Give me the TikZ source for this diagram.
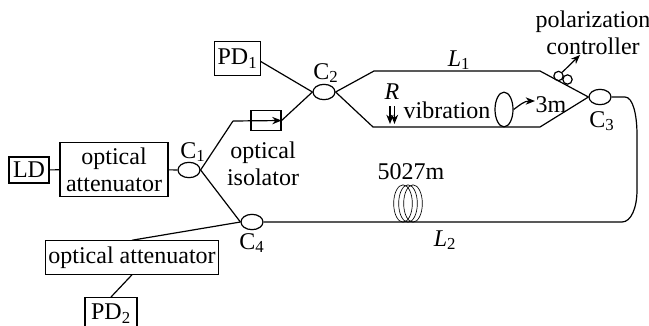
\documentclass[tikz,border=0pt]{standalone}
\usepackage{fontspec}
\setmainfont{Liberation Serif}
\usetikzlibrary{shapes.geometric,arrows.meta}

\begin{document}
\begin{tikzpicture}[x=0.75pt,y=-0.75pt,>={Stealth[length=7pt,width=5.5pt]},line width=0.9pt,
    box node/.style={rectangle,draw,inner sep=0pt,align=center},
    coupler node/.style={ellipse,draw,inner sep=0pt,minimum width=16.5pt,minimum height=11.5pt},
    coil node/.style={ellipse,draw,line width=0.5pt,inner sep=0pt,minimum width=14pt,minimum height=28pt},
    label node/.style={inner sep=0pt,align=center},
    font=\fontsize{18}{20}\selectfont]

    \clip (0,0) rectangle (649,325);

    \node[box node, minimum width=30pt, minimum height=19.5pt] (ld) at (29,170) {LD};
    \node[box node, minimum width=81pt, minimum height=40pt] (att1) at (114,169.5) {optical\\attenuator};
    \node[box node, minimum width=34pt, minimum height=25pt] (pd1) at (237.5,58.5) {PD\textsubscript{1}};
    \node[box node, minimum width=22.5pt, minimum height=14.5pt] (iso) at (266,120.5) {};
    \node[box node, minimum width=130pt, minimum height=25pt] (att2) at (132,257.5) {optical attenuator};
    \node[box node, minimum width=39pt, minimum height=24pt, anchor=north] (pd2) at (111,297) {PD\textsubscript{2}};

    \node[coupler node] (c1) at (189,170) {};
    \node[coupler node] (c2) at (324,92) {};
    \node[coupler node] (c3) at (600,97) {};
    \node[coupler node] (c4) at (252,222) {};

    \node[label node] (c1 label) at (193,152) {C\textsubscript{1}};
    \node[label node] (c2 label) at (326,73) {C\textsubscript{2}};
    \node[label node] (c3 label) at (602,121) {C\textsubscript{3}};
    \node[label node] (c4 label) at (252,243) {C\textsubscript{4}};
    \node[label node] (l1) at (459,60) {\textit{L}\textsubscript{1}};
    \node[label node] (l2) at (445,240) {\textit{L}\textsubscript{2}};
    \node[label node] (r) at (392,92) {\textit{R}};
    \node[label node] (vib) at (447,110) {vibration};
    \node[label node] (len1) at (551,105) {3m};
    \node[label node] (len2) at (411,172) {5027m};
    \node[label node] (isolabel) at (263,164) {optical\\isolator};
    \node[label node] (pclabel) at (593,33) {polarization\\controller};

    % bends
    \coordinate (a1) at (233,121);
    \coordinate (u1) at (374,71);
    \coordinate (u2) at (540,71);
    \coordinate (d1) at (373,127);
    \coordinate (d2) at (540,127);
    \coordinate (e1) at (625,97);
    \coordinate (e2) at (637,135);
    \coordinate (e3) at (637,190);
    \coordinate (e4) at (622,222);

    \draw (ld) -- (att1);
    \draw (att1) -- (c1);
    \draw (c1.east) -- (a1);
    \draw[->] (a1) -- (iso.east);
    \draw (iso.east) -- (c2.west);
    \draw (pd1.east) ++(0,3) -- (c2.west);
    \draw (c2.east) -- (u1) -- (u2) -- (c3.west);
    \draw (c2.east) -- (d1) -- (d2) -- (c3.west);
    \draw (c3.east) -- (e1) .. controls (633,97) and (637,115) .. (e2) -- (e3)
        .. controls (637,208) and (631,222) .. (e4) -- (c4.east);
    \draw (c1.east) -- (c4.west);
    \draw (c4.west) -- (att2.north);
    \draw (att2.south) -- (pd2.north);

    % polarization controller
    \node[circle,draw,inner sep=0pt,minimum size=7pt] (pc1) at (558.5,76) {};
    \node[circle,draw,inner sep=0pt,minimum size=7pt] (pc2) at (567.5,79.5) {};
    \coordinate (pc tip) at (580,55);
    \draw[->] (pc1.north east) -- (pc tip);

    % fibre coils
    \foreach \i/\x in {a/403,b/408,c/413}
        \node[coil node] (coil\i) at (\x,203.5) {};

    % vibration section
    \node[ellipse,draw,inner sep=0pt,minimum width=13.5pt,minimum height=26pt] (vring) at (504,109.5) {};
    \coordinate (vtip) at (535,101);
    \draw[->] (vring.east) .. controls (520,105) and (524,101) .. (vtip);

    \coordinate (ra) at (390,106);
    \coordinate (rb) at (390,124);
    \coordinate (rc) at (394.5,106);
    \coordinate (rd) at (394.5,124);
    \draw[->] (ra) -- (rb);
    \draw[->] (rc) -- (rd);
\end{tikzpicture}
\end{document}
